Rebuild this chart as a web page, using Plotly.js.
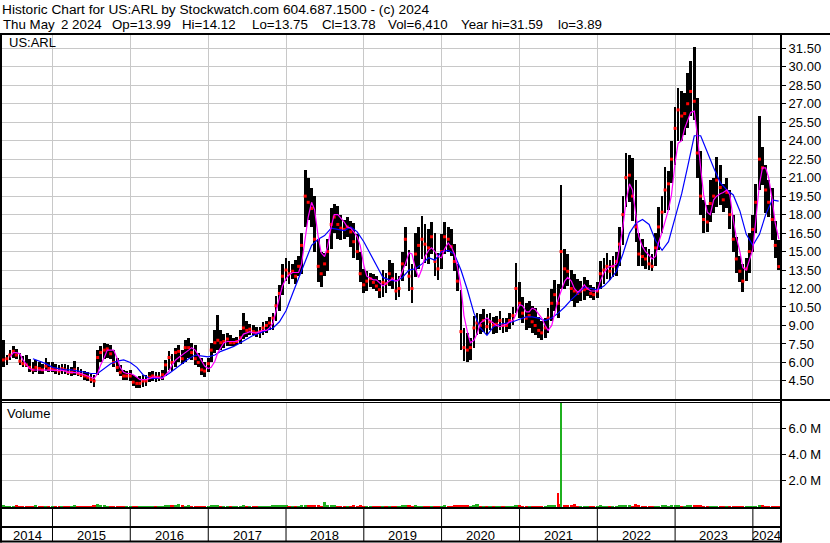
<!DOCTYPE html>
<html><head><meta charset="utf-8">
<script src="https://cdn.plot.ly/plotly-3.0.1.min.js"></script>
<style>html,body{margin:0;padding:0;background:#fff}#chart{width:830px;height:543px}</style>
</head><body><div id="chart"></div>
<script>
// ---------- DATA (semi-monthly, 2014-05-15 .. 2024-05-02) ----------
const highs = [
 7.8,6.6,7.0,7.3,7.1,6.8,6.5,6.6,6.3,6.0,6.2,6.0,5.9,6.4,6.0,
 6.0,5.9,5.8,5.9,5.9,5.8,5.6,6.1,5.6,5.5,5.3,5.2,5.1,5.0,7.0,7.3,7.6,7.5,7.4,7.0,6.4,5.8,5.4,5.3,
 5.4,5.0,4.8,4.9,5.0,5.0,5.2,5.3,5.2,5.2,5.4,6.2,6.9,6.7,7.2,7.4,7.0,7.8,8.0,7.6,7.4,6.8,6.4,6.0,
 6.4,7.6,8.6,9.85,8.6,8.3,8.4,8.2,8.0,8.1,8.6,10.0,9.4,9.1,9.0,8.9,8.9,9.3,9.4,9.7,10.0,11.4,12.3,14.0,
 14.5,14.2,14.0,14.3,14.6,16.5,21.6,21.0,20.2,19.5,16.0,15.0,14.9,16.0,18.5,18.9,18.7,18.0,17.6,17.8,17.5,17.3,16.4,15.0,
 13.6,13.4,13.3,13.2,13.0,12.7,13.5,13.3,14.3,14.1,13.3,13.0,15.0,17.0,15.1,14.0,16.5,17.0,17.9,17.2,16.8,17.4,16.5,14.9,
 16.4,17.4,17.0,16.8,15.6,14.0,11.9,8.8,8.4,8.0,9.8,10.0,9.9,10.3,9.9,10.0,9.7,9.8,10.2,9.6,9.6,10.0,10.5,14.1,
 12.5,11.3,10.8,11.0,10.6,10.4,9.7,9.4,9.6,10.4,12.0,12.7,12.4,20.4,15.2,14.8,13.5,13.2,12.8,12.6,12.9,12.7,12.3,12.1,
 12.5,14.2,14.5,14.9,14.3,14.6,15.0,17.0,19.5,23.0,22.8,22.6,20.8,16.5,16.0,15.4,15.2,14.8,16.5,18.6,19.5,21.9,21.5,24.0,
 26.7,28.3,28.0,27.9,29.5,30.5,31.59,27.5,23.2,19.2,18.8,20.8,21.0,22.7,22.0,20.5,21.0,20.0,18.0,16.2,14.6,14.0,14.5,16.5,
 18.0,20.5,26.0,23.5,22.0,20.8,20.2,17.5,15.9
];
const lows = [
 5.6,5.8,6.2,6.4,6.3,5.8,5.6,5.6,5.2,5.1,5.2,5.1,5.1,5.3,5.2,
 5.2,5.1,5.0,5.1,5.1,5.0,4.9,5.0,4.9,4.8,4.6,4.5,4.3,4.0,5.0,6.0,6.3,6.4,6.3,5.6,5.2,4.9,4.6,4.6,
 4.5,4.1,3.89,3.9,4.0,4.1,4.4,4.5,4.4,4.5,4.6,4.9,5.4,5.3,5.6,6.0,5.9,6.0,6.4,6.2,5.8,5.6,5.0,4.8,
 5.2,6.0,6.8,7.0,7.0,7.2,7.3,7.3,7.3,7.4,7.5,7.9,8.1,8.2,8.2,8.1,8.0,8.2,8.4,8.6,8.6,9.4,10.2,11.5,
 12.6,12.4,12.8,12.4,13.0,13.2,17.0,17.6,17.0,15.0,12.5,12.1,13.0,13.4,15.2,16.5,16.0,15.9,16.0,16.2,15.4,14.5,14.3,12.5,
 11.6,11.8,12.1,12.0,11.8,11.2,11.3,11.6,12.2,12.0,11.1,11.3,12.6,13.8,11.8,10.8,12.9,13.6,14.4,14.1,14.0,14.8,13.0,12.7,
 13.6,14.8,15.0,14.6,13.4,11.8,7.0,6.1,6.0,6.2,7.2,8.2,8.3,8.5,8.2,8.6,8.3,8.4,8.6,8.4,8.5,8.7,9.0,10.0,
 9.6,9.2,8.6,8.8,8.4,8.2,8.0,7.8,8.0,8.4,9.4,10.2,9.6,12.0,12.0,12.2,11.0,10.5,10.8,11.0,11.1,11.4,11.2,11.1,
 11.2,12.0,12.4,12.8,12.7,12.9,13.0,13.8,15.5,18.6,19.0,17.5,15.8,13.8,13.8,13.6,13.5,13.4,13.8,15.1,16.5,18.1,18.4,20.6,
 22.0,24.0,24.0,24.5,25.0,26.0,25.7,21.0,18.0,16.5,16.6,17.4,18.1,18.6,18.8,18.2,18.5,16.8,15.0,13.3,12.5,11.7,12.6,13.3,
 15.0,16.5,20.0,20.4,18.1,17.8,15.9,14.5,13.5
];
const closes = [
 6.2,6.3,6.6,6.9,6.6,6.1,5.9,5.8,5.6,5.4,5.6,5.5,5.4,5.7,5.5,
 5.5,5.4,5.3,5.5,5.4,5.2,5.2,5.4,5.1,5.0,4.9,4.8,4.6,4.5,6.4,6.8,7.0,7.1,6.7,6.0,5.6,5.2,4.9,4.9,
 4.9,4.4,4.3,4.3,4.5,4.5,4.8,4.9,4.8,4.8,5.0,5.8,6.4,6.0,6.8,6.9,6.3,7.2,7.2,6.8,6.3,6.0,5.4,5.3,
 5.9,7.0,7.6,7.8,7.6,7.7,7.9,7.6,7.6,7.7,8.0,8.8,8.6,8.7,8.5,8.4,8.5,8.8,9.0,9.2,9.6,10.6,11.6,13.0,
 13.5,13.2,13.4,13.0,13.8,15.5,19.5,19.0,18.5,16.0,13.8,13.2,14.0,15.0,17.2,17.8,17.2,16.9,16.8,17.0,16.6,15.8,15.0,13.2,
 12.3,12.6,12.8,12.5,12.2,11.9,12.5,12.4,13.2,12.8,11.8,12.0,14.0,16.0,13.0,12.0,14.8,15.5,16.0,15.6,15.3,16.2,14.2,13.6,
 15.0,16.2,16.0,15.4,14.2,12.6,8.5,7.2,7.0,7.2,8.8,9.2,9.0,9.4,8.9,9.3,9.0,9.1,9.4,9.0,9.0,9.4,9.8,12.0,
 10.8,10.0,9.6,9.8,9.3,9.0,8.6,8.4,8.8,9.6,10.8,11.5,10.8,15.0,13.6,13.4,12.0,11.8,11.6,11.8,11.9,12.0,11.6,11.5,
 11.8,13.2,13.5,13.8,13.4,13.8,14.2,15.6,18.0,21.0,21.2,19.5,17.0,14.8,14.6,14.4,14.0,13.8,15.3,17.0,18.2,20.0,20.5,22.5,
 25.0,26.5,26.0,26.2,27.0,28.0,27.2,23.0,19.5,17.6,17.4,18.9,19.5,20.8,20.2,19.2,19.8,18.0,16.0,14.4,13.4,12.6,13.6,15.0,
 16.8,19.0,22.5,21.8,20.0,19.0,17.6,15.5,13.78
];
const maShort = [
 null,null,6.4,6.8,6.8,6.7,6.2,5.8,5.5,5.4,5.4,5.4,5.4,5.4,5.4,
 5.4,5.4,5.4,5.35,5.3,5.2,5.2,5.2,5.15,5.1,5.0,4.9,4.8,4.7,5.1,5.8,6.4,7.0,7.0,7.0,6.3,5.6,5.2,5.1,
 5.1,5.0,4.8,4.6,4.6,4.6,4.7,4.8,4.8,4.75,4.7,5.0,5.3,5.8,6.2,6.4,6.6,6.8,7.0,7.2,7.0,6.6,6.1,5.7,
 5.5,5.6,6.1,6.8,7.2,7.6,7.7,7.7,7.7,7.7,7.9,8.3,8.4,8.5,8.4,8.4,8.5,8.6,8.6,8.8,9.2,10.2,11.3,12.2,
 12.8,13.1,13.3,13.3,13.3,14.0,16.0,17.8,19.0,18.4,16.2,14.9,14.6,15.4,17.0,18.0,18.0,17.7,17.4,17.0,16.9,16.6,16.2,15.5,
 13.9,13.0,12.8,12.7,12.7,12.5,12.2,12.4,12.6,12.8,12.6,12.7,13.4,14.0,14.9,14.8,13.6,12.9,13.6,14.6,15.1,15.3,15.0,14.6,
 14.5,15.2,15.7,15.4,14.8,13.8,12.2,9.8,8.5,7.6,7.8,8.3,9.2,9.4,9.6,9.4,9.2,9.0,8.9,9.0,9.1,9.3,9.4,9.9,
 10.7,10.6,10.1,10.1,10.4,10.3,9.9,9.6,9.0,8.6,9.0,10.0,11.1,11.8,12.6,12.9,12.6,12.0,11.7,11.9,12.3,12.0,11.8,11.8,
 11.8,12.6,13.3,13.6,13.8,13.8,14.0,15.3,17.0,19.0,20.5,20.0,18.1,16.2,15.4,15.0,14.7,14.4,14.6,15.7,16.6,17.5,18.4,19.6,
 22.2,23.8,24.0,25.0,25.6,26.3,26.4,24.5,21.8,19.6,18.2,18.0,19.2,19.5,19.7,19.8,20.0,19.6,17.6,16.2,15.0,13.7,13.5,14.2,
 15.2,17.6,20.5,21.8,21.8,21.0,19.2,17.3,16.0
];
const volumes = [ // millions of shares
 0.12,0.10,0.09,0.11,0.12,0.09,0.10,0.11,0.09,0.10,0.12,0.09,0.10,0.11,0.09,
 0.09,0.10,0.09,0.11,0.09,0.10,0.09,0.12,0.09,0.10,0.09,0.11,0.10,0.12,0.24,0.15,0.12,0.10,0.11,0.09,0.10,0.09,0.11,0.09,
 0.10,0.09,0.10,0.11,0.09,0.10,0.09,0.11,0.09,0.10,0.11,0.14,0.18,0.12,0.16,0.22,0.12,0.11,0.18,0.10,0.09,0.10,0.09,0.10,
 0.10,0.12,0.14,0.16,0.10,0.09,0.10,0.09,0.11,0.09,0.10,0.12,0.10,0.09,0.10,0.09,0.11,0.09,0.10,0.11,0.12,0.14,0.13,0.16,
 0.12,0.10,0.11,0.09,0.10,0.14,0.18,0.14,0.12,0.13,0.12,0.10,0.40,0.14,0.16,0.12,0.10,0.11,0.09,0.10,0.11,0.12,0.10,0.12,
 0.10,0.09,0.11,0.09,0.10,0.09,0.11,0.09,0.10,0.09,0.11,0.09,0.12,0.14,0.12,0.10,0.12,0.10,0.11,0.09,0.10,0.11,0.09,0.10,
 0.10,0.12,0.10,0.11,0.12,0.14,0.18,0.14,0.12,0.10,0.13,0.20,0.10,0.09,0.11,0.09,0.10,0.09,0.11,0.09,0.10,0.09,0.11,0.16,
 0.12,0.10,0.09,0.11,0.09,0.10,0.09,0.11,0.09,0.12,0.16,0.14,0.20,8.6,0.18,0.16,0.12,0.20,0.10,0.09,0.11,0.09,0.10,0.09,
 0.10,0.12,0.10,0.09,0.11,0.09,0.10,0.12,0.14,0.16,0.12,0.10,0.22,0.12,0.10,0.09,0.11,0.09,0.10,0.11,0.12,0.12,0.10,0.12,
 0.13,0.12,0.10,0.11,0.12,0.12,0.14,0.13,0.12,0.10,0.11,0.09,0.10,0.09,0.11,0.09,0.10,0.09,0.11,0.10,0.09,0.10,0.09,0.10,
 0.10,0.11,0.13,0.12,0.10,0.09,0.10,0.09,0.09
];
// long moving average, monthly from 2014-10-01
const maLong = [
 6.3,6.1,5.9,5.6,5.5,5.4,5.4,5.3,5.2,5.1,
 5.1,5.5,5.9,6.1,6.2,6.0,5.6,5.0,4.7,4.7,
 4.8,5.1,5.5,5.9,6.3,6.6,6.5,6.45,6.6,6.9,
 7.1,7.3,7.6,7.9,8.2,8.4,8.6,8.8,9.3,10.2,
 11.6,12.9,14.2,15.5,16.0,16.3,16.9,16.8,16.7,17.0,
 16.6,15.8,14.8,13.8,12.9,12.7,12.6,12.9,13.5,13.6,
 14.0,14.5,14.3,15.0,15.1,14.8,13.5,11.9,10.0,8.8,
 8.2,8.9,9.1,9.2,9.3,9.5,9.7,9.7,9.6,9.4,
 9.6,10.0,10.5,11.1,11.6,12.1,12.0,11.9,12.2,12.7,
 13.4,14.8,16.5,17.3,17.6,17.2,15.9,15.1,15.8,17.8,
 19.7,21.9,24.4,24.4,23.0,21.8,20.6,20.0,19.6,18.3,
 16.4,15.5,16.4,18.0,19.2,19.1
];
const spikeDates = ['2021-07-01'];
const spikeDownVol = [1.1];
const yearLabels = ['2014','2015','2016','2017','2018','2019','2020','2021','2022','2023','2024'];
const priceTicks = [4.5,6,7.5,9,10.5,12,13.5,15,16.5,18,19.5,21,22.5,24,25.5,27,28.5,30,31.5];
const volTicks = [2,4,6];
const volTickText = ['2.0 M','4.0 M','6.0 M'];
const headerTitle = 'Historic Chart for US:ARL by Stockwatch.com 604.687.1500 - (c) 2024';
const quoteFields = ['Thu May', '2 2024', 'Op=13.99', 'Hi=14.12', 'Lo=13.75', 'Cl=13.78', 'Vol=6,410', 'Year hi=31.59', 'lo=3.89'];
const rangeStart = '2014-05-09', rangeEnd = '2024-05-12';

// ---------- dates ----------
function pad(n){return (n<10?'0':'')+n;}
const dates = [];
{ let y=2014, m=5, d=15;
  for (let i=0;i<highs.length;i++){
    dates.push(y+'-'+pad(m)+'-'+pad(d));
    if (d===1){ d=15; } else { d=1; m++; if(m>12){m=1;y++;} }
  }
  dates[dates.length-1] = '2024-05-02';
}
const longDates = [];
{ let y=2014, m=10;
  for (let i=0;i<maLong.length;i++){ longDates.push(y+'-'+pad(m)+'-01'); m++; if(m>12){m=1;y++;} }
}

const FONT = '"Liberation Sans", Arial, sans-serif';
const DAY = 86400000;
const GRID = '#c8c8c8';

// pixel helpers for frame decorations (plot area: x 2..781, y 35..508)
const L=2, R=781, T=35, B=508;
const px = v => (v-L)/(R-L);
const py = v => (B-v)/(B-T);
const t0 = Date.parse(rangeStart), t1 = Date.parse(rangeEnd);
const dx = s => (Date.parse(s)-t0)/(t1-t0);

const upColor = '#1fb01f', downColor = '#ff0000';
const volColors = volumes.map((v,i)=> (i===0 || closes[i]>=closes[i-1]) ? upColor : downColor);
const volWidths = volumes.map(v => (v > 1 ? 7 : 15) * DAY);

const traces = [
  {type:'bar', x:dates, y:highs.map((h,i)=>h-lows[i]), base:lows, width:13*DAY,
   marker:{color:'#000000', line:{width:0}}, xaxis:'x', yaxis:'y', hoverinfo:'skip'},
  {type:'scatter', mode:'markers', x:dates, y:closes, marker:{symbol:'square', size:3, color:'#ff0000', line:{width:0}},
   xaxis:'x', yaxis:'y', hoverinfo:'skip'},
  {type:'scatter', mode:'lines', x:longDates, y:maLong, line:{color:'#0000ff', width:1.2}, xaxis:'x', yaxis:'y', hoverinfo:'skip'},
  {type:'scatter', mode:'lines', x:dates, y:maShort, line:{color:'#ff00ff', width:1.2}, xaxis:'x', yaxis:'y', hoverinfo:'skip'},
  {type:'bar', x:dates, y:volumes, width:volWidths, marker:{color:volColors, line:{width:0}}, xaxis:'x', yaxis:'y2', hoverinfo:'skip'},
  {type:'bar', x:spikeDates, y:spikeDownVol, width:7*DAY, marker:{color:downColor, line:{width:0}}, xaxis:'x', yaxis:'y2', hoverinfo:'skip'}
];

const shapes = [];
function hline(y, x0, x1, w){ shapes.push({type:'line', xref:'paper', yref:'paper', x0:px(x0), x1:px(x1), y0:py(y), y1:py(y), line:{color:'#000', width:w}}); }
function vline(x, y0, y1, w){ shapes.push({type:'line', xref:'paper', yref:'paper', x0:x, x1:x, y0:py(y0), y1:py(y1), line:{color:'#000', width:w}}); }
hline(34, 0, 830, 2);
hline(400, 0, 830, 2);
hline(402.5, 0, 781, 1);
hline(508, 0, 781, 2);
hline(527, 0, 781, 2);
hline(541.5, 0, 781, 2);
vline(px(1), 34, 542.5, 2);
vline(px(781), 34, 542.5, 2);
for (let i=1;i<yearLabels.length;i++){ vline(dx(yearLabels[i]+'-01-01'), 508, 541.5, 1); }

const annotations = [];
function txt(text, x, y, size){ annotations.push({text:text, xref:'paper', yref:'paper', x:px(x), y:py(y), xanchor:'left', yanchor:'middle',
  showarrow:false, font:{family:FONT, size:size||13, color:'#000'}, borderpad:0, borderwidth:0}); }
txt(headerTitle, 2, 9, 13.7);
// header quote fields, placed at the columns they occupy in the header line
const fieldX = [3, 61, 112, 182, 252, 322, 388, 461, 558];
quoteFields.forEach((f,i)=> txt(f, fieldX[i], 24.5, 13.3));
txt('US:ARL', 9, 42.5);
txt('Volume', 7, 413);
for (let i=0;i<yearLabels.length;i++){
  const a = Math.max(0, dx(yearLabels[i]+'-01-01'));
  const b = i+1<yearLabels.length ? dx(yearLabels[i+1]+'-01-01') : 1;
  annotations.push({text:yearLabels[i], xref:'paper', yref:'paper', x:(a+b)/2, y:py(535), xanchor:'center', yanchor:'middle',
    showarrow:false, font:{family:FONT, size:13, color:'#000'}, borderpad:0});
}

const layout = {
  width:830, height:543, margin:{l:L, r:830-R, t:T, b:543-B, pad:0},
  paper_bgcolor:'#fff', plot_bgcolor:'#fff', showlegend:false, barmode:'overlay', bargap:0,
  font:{family:FONT, size:13, color:'#000'},
  xaxis:{type:'date', range:[rangeStart, rangeEnd], anchor:'y2', domain:[0,1], showgrid:true, gridcolor:GRID, gridwidth:1,
    tick0:'2015-01-01', dtick:'M12', showticklabels:false, ticks:'', showline:false, zeroline:false, fixedrange:true},
  yaxis:{domain:[py(400),1], range:[2.95,32.58], side:'right', anchor:'x', tickmode:'array', tickvals:priceTicks,
    ticktext:priceTicks.map(v=>v.toFixed(2)), ticks:'outside', ticklen:4, tickcolor:'#000', tickwidth:1,
    tickfont:{family:FONT, size:13, color:'#000'}, showgrid:true, gridcolor:GRID, gridwidth:1, showline:false, zeroline:false, fixedrange:true},
  yaxis2:{domain:[0,py(402)], range:[-0.08,8.0], side:'right', anchor:'x', tickmode:'array', tickvals:volTicks, ticktext:volTickText,
    ticks:'outside', ticklen:4, tickcolor:'#000', tickwidth:1, tickfont:{family:FONT, size:13, color:'#000'},
    showgrid:true, gridcolor:GRID, gridwidth:1, showline:false, zeroline:false, fixedrange:true},
  shapes:shapes, annotations:annotations
};
Plotly.newPlot('chart', traces, layout, {displayModeBar:false, staticPlot:true});
</script>
</body></html>
